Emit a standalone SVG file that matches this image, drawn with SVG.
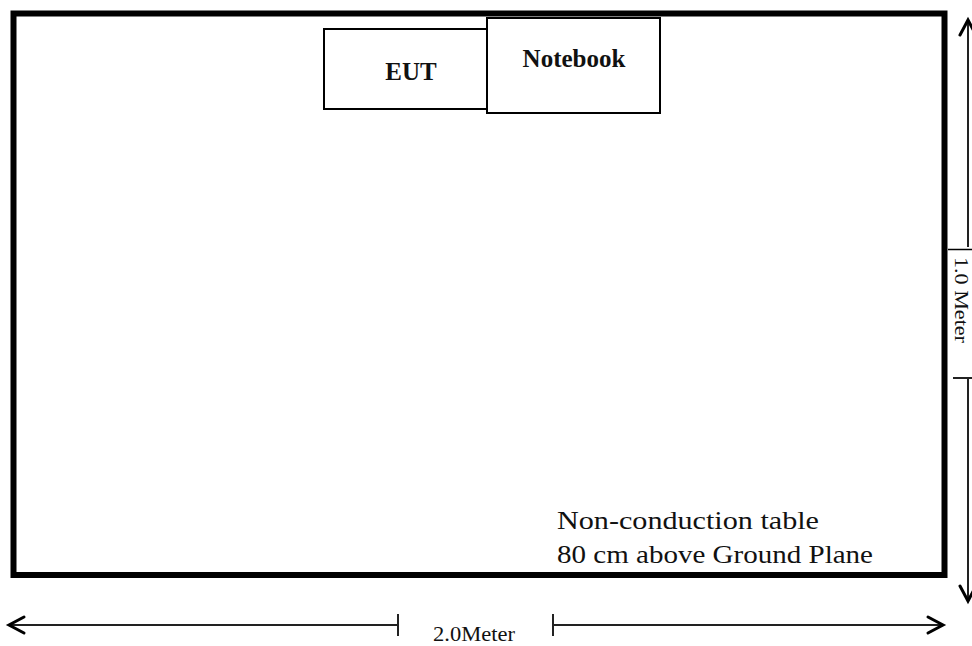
<svg xmlns="http://www.w3.org/2000/svg" width="972" height="646" viewBox="0 0 972 646">
<style>
.box{fill:#fff;stroke:#000;stroke-width:2}
.dim{stroke:#222;stroke-width:2;fill:none}
.head{stroke:#000;stroke-width:3;fill:none;stroke-linecap:round;stroke-linejoin:miter}
.lbl{font-family:"Liberation Serif",serif;fill:#111}
</style>
<rect id="table" x="13.5" y="13.5" width="931" height="561.5" fill="#fff" stroke="#000" stroke-width="6"/>
<g id="eut"><rect class="box" x="324" y="29" width="163" height="80"/><text class="lbl" x="411" y="80" font-size="25" font-weight="bold" text-anchor="middle">EUT</text></g>
<g id="notebook"><rect class="box" x="487" y="18" width="173" height="95"/><text class="lbl" x="574" y="67" font-size="25" font-weight="bold" text-anchor="middle">Notebook</text></g>
<g id="table-label"><text class="lbl" x="557" y="529" font-size="26" textLength="262" lengthAdjust="spacingAndGlyphs">Non-conduction table</text><text class="lbl" x="557" y="563" font-size="26" textLength="316" lengthAdjust="spacingAndGlyphs">80 cm above Ground Plane</text></g>
<g id="connectors">
<line class="dim" x1="9" y1="625" x2="398" y2="625"/>
<line class="dim" x1="398" y1="614" x2="398" y2="636"/>
<polyline class="head" points="24,617 9,625 24,633"/>
<line class="dim" x1="553" y1="625" x2="943" y2="625"/>
<line class="dim" x1="553" y1="614" x2="553" y2="636"/>
<polyline class="head" points="928,617 943,625 928,633"/>
<line class="dim" x1="968" y1="20" x2="968" y2="247"/>
<polyline class="head" points="960,35 968,20 976,35"/>
<line x1="948" y1="249.5" x2="972" y2="249.5" stroke="#000" stroke-width="1.5"/>
<line class="dim" x1="968" y1="378" x2="968" y2="601"/>
<line class="dim" x1="953" y1="378" x2="972" y2="378"/>
<polyline class="head" points="960,586 968,601 976,586"/>
</g>
<text class="lbl" x="433" y="641" font-size="21" textLength="82" lengthAdjust="spacingAndGlyphs">2.0Meter</text>
<text class="lbl" transform="translate(955,257) rotate(90)" font-size="19" textLength="86" lengthAdjust="spacingAndGlyphs">1.0 Meter</text>
</svg>
